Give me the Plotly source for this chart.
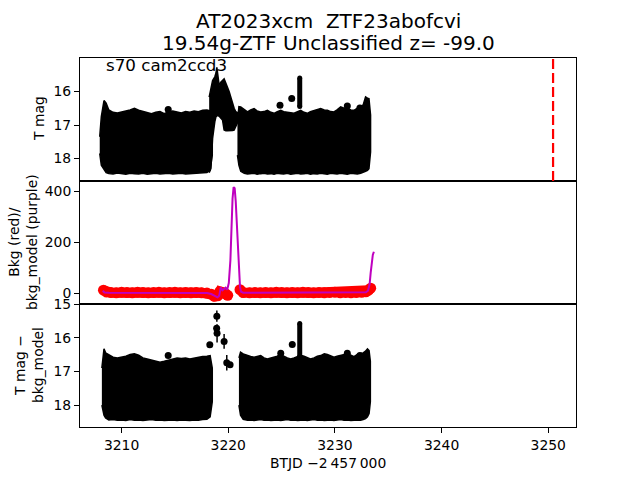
import plotly.graph_objects as go

W, H = 640, 480
ML, MR, MT, MB = 80, 64, 58, 53
FONT = "DejaVu Sans"

# ---------------- data ----------------
TITLE_1 = "AT2023xcm\u00a0\u00a0ZTF23abofcvi"
TITLE_2 = "19.54g-ZTF Unclassified z= -99.0"
SECTOR_LABEL = "s70 cam2ccd3"
X_LABEL = "BTJD \u22122\u2009457\u2009000"
Y1_LABEL = "T mag"
Y2_LABEL = "Bkg (red)/<br>bkg_model (purple)"
Y3_LABEL = "T mag \u2212<br>bkg_model"

X_TICKS = [3210, 3220, 3230, 3240, 3250]
Y1_TICKS = [16, 17, 18]
Y2_TICKS = [0, 200, 400]
Y3_TICKS = [15, 16, 17, 18]

VLINE_T = 3250.45

# panel 1: light curve envelope, orbit 1
LC1A_T = [3207.95, 3208.1, 3208.35, 3208.55, 3208.8, 3209.2, 3209.6, 3210.0, 3210.4, 3210.8,
          3211.2, 3211.6, 3212.0, 3212.4, 3212.8, 3213.2, 3213.6, 3214.0, 3214.4, 3214.8,
          3215.2, 3215.6, 3216.0, 3216.4, 3216.8, 3217.2, 3217.6, 3218.0, 3218.3, 3218.5]
LC1A_UP = [17.35, 16.75, 16.27, 16.35, 16.55, 16.62, 16.64, 16.62, 16.58, 16.55,
           16.50, 16.56, 16.60, 16.64, 16.66, 16.62, 16.60, 16.66, 16.60, 16.58,
           16.62, 16.64, 16.60, 16.62, 16.58, 16.60, 16.56, 16.55, 16.58, 16.95]
LC1A_LO = [17.85, 18.2, 18.33, 18.42, 18.45, 18.46, 18.43, 18.45, 18.47, 18.44,
           18.45, 18.46, 18.44, 18.47, 18.45, 18.44, 18.46, 18.45, 18.44, 18.46,
           18.45, 18.44, 18.46, 18.45, 18.44, 18.45, 18.43, 18.42, 18.35, 17.9]

# panel 1: flare bump between orbits
LC1F_T = [3218.21, 3218.37, 3218.53, 3218.74, 3218.85, 3218.93, 3219.05, 3219.15, 3219.3, 3219.46,
          3219.61, 3219.77, 3219.93, 3220.08, 3220.24, 3220.4, 3220.55, 3220.7, 3220.86, 3220.98]
LC1F_UP = [16.17, 15.87, 15.67, 15.56, 15.45, 15.28, 15.6, 15.82, 15.72, 15.67,
           15.62, 15.75, 15.87, 16.0, 16.17, 16.37, 16.5, 16.6, 16.62, 16.65]
LC1F_LO = [18.42, 18.3, 17.4, 16.9, 16.75, 16.72, 16.72, 16.74, 16.78, 16.85,
           17.15, 17.17, 17.17, 17.17, 17.17, 17.16, 17.15, 17.05, 16.95, 16.85]

# panel 1: orbit 2
LC1B_T = [3220.86, 3221.0, 3221.17, 3221.5, 3221.8, 3222.1, 3222.42, 3222.7, 3223.04, 3223.35,
          3223.67, 3224.0, 3224.29, 3224.6, 3224.92, 3225.2, 3225.54, 3225.85, 3226.17, 3226.5,
          3226.79, 3227.1, 3227.41, 3227.7, 3228.04, 3228.35, 3228.66, 3229.0, 3229.29, 3229.6,
          3229.91, 3230.2, 3230.54, 3230.85, 3231.16, 3231.5, 3231.78, 3232.1, 3232.41, 3232.65,
          3232.87, 3233.05, 3233.19, 3233.34]
LC1B_UP = [16.9, 16.45, 16.46, 16.55, 16.61, 16.55, 16.51, 16.58, 16.61, 16.6,
           16.56, 16.62, 16.65, 16.6, 16.56, 16.6, 16.61, 16.63, 16.65, 16.6,
           16.56, 16.62, 16.65, 16.6, 16.56, 16.54, 16.51, 16.55, 16.56, 16.6,
           16.61, 16.55, 16.46, 16.5, 16.51, 16.55, 16.56, 16.5, 16.46, 16.4,
           16.16, 16.2, 16.21, 16.7]
LC1B_LO = [17.9, 18.2, 18.38, 18.44, 18.46, 18.45, 18.44, 18.47, 18.45, 18.44,
           18.46, 18.45, 18.47, 18.44, 18.45, 18.46, 18.44, 18.47, 18.45, 18.44,
           18.46, 18.45, 18.44, 18.47, 18.45, 18.46, 18.44, 18.45, 18.47, 18.44,
           18.45, 18.46, 18.44, 18.45, 18.47, 18.44, 18.45, 18.46, 18.44, 18.42,
           18.38, 18.35, 18.3, 17.8]

# panel 1 isolated points
P1_T = [3214.37, 3224.85, 3225.95, 3231.16, 3232.34]
P1_M = [16.54, 16.41, 16.21, 16.43, 16.49]
# panel 1 short spike at ~3226.7 (top and bottom of the run of points)
SPK1_T = [3226.7, 3226.7]
SPK1_M = [15.6, 16.45]

# panel 2: background (red) and background model (purple)
BKG_T = [3208.3, 3208.6, 3209.0, 3209.5, 3210.0, 3210.5, 3211.0, 3211.5, 3212.0, 3212.5,
         3213.0, 3213.5, 3214.0, 3214.5, 3215.0, 3215.5, 3216.0, 3216.5, 3217.0, 3217.5,
         3218.0, 3218.4, 3218.7, 3219.0, 3219.2, 3219.4, 3219.7, 3219.95, 3220.5,
         3221.1, 3221.4, 3222.0, 3222.5, 3223.0, 3223.5, 3224.0, 3224.5, 3225.0, 3225.5,
         3226.0, 3226.5, 3227.0, 3227.5, 3228.0, 3228.5, 3229.0, 3229.5, 3230.0, 3230.5,
         3231.0, 3231.5, 3232.0, 3232.5, 3232.9, 3233.15, 3233.35]
BKG_V = [12, 5, 3, 2, 4, 3, 2, 4, 3, 2,
         3, 4, 2, 3, 4, 2, 3, 2, 3, 2,
         1, -4, -12, -10, 6, 4, 0, -8, None,
         14, 3, 2, 3, 2, 3, 2, 4, 3, 2,
         3, 2, 4, 3, 2, 3, 2, 3, 4, 2,
         3, 2, 3, 4, 6, 12, 20]
MOD_T = [3208.23, 3208.4, 3208.8, 3210, 3212, 3214, 3216, 3218.0, 3218.4, 3218.6,
         3218.8, 3219.0, 3219.15, 3219.3, 3219.45, 3219.6, 3219.75, 3219.9, 3220.05, 3220.2,
         3220.3, 3220.4, 3220.5, 3220.6, 3220.7, 3220.8, 3220.9, 3221.0, 3221.1, 3221.2,
         3221.4, 3222, 3224, 3226, 3228, 3230, 3232, 3232.9, 3233.1, 3233.25,
         3233.35, 3233.45, 3233.55, 3233.65]
MOD_V = [10, 3, 2, 2, 2, 2, 2, 1, -3, -8,
         -14, -16, -10, 24, 12, 18, 22, 14, 40, 130,
         260, 370, 416, 412, 360, 270, 200, 80, 25, 6,
         2, 2, 2, 2, 2, 2, 2, 4, 10, 35,
         80, 125, 150, 163]

# panel 3: background-subtracted light curve
LC3A_T = [3208.15, 3208.35, 3208.5, 3208.8, 3209.2, 3209.6, 3210.0, 3210.4, 3210.8, 3211.2,
          3211.6, 3212.0, 3212.4, 3212.8, 3213.2, 3213.6, 3214.0, 3214.4, 3214.8, 3215.2,
          3215.6, 3216.0, 3216.4, 3216.8, 3217.2, 3217.6, 3218.0, 3218.3, 3218.5]
LC3A_UP = [16.9, 16.33, 16.45, 16.5, 16.58, 16.6, 16.58, 16.55, 16.5, 16.48,
           16.52, 16.6, 16.63, 16.66, 16.7, 16.73, 16.7, 16.66, 16.63, 16.6,
           16.62, 16.6, 16.63, 16.6, 16.58, 16.56, 16.55, 16.53, 16.9]
LC3A_LO = [18.0, 18.3, 18.38, 18.44, 18.43, 18.45, 18.44, 18.46, 18.43, 18.45,
           18.44, 18.46, 18.45, 18.43, 18.45, 18.44, 18.46, 18.45, 18.44, 18.46,
           18.44, 18.45, 18.46, 18.44, 18.45, 18.43, 18.42, 18.35, 17.9]
LC3B_T = [3221.0, 3221.15, 3221.4, 3221.8, 3222.1, 3222.42, 3222.7, 3223.04, 3223.35, 3223.67,
          3224.0, 3224.29, 3224.6, 3224.92, 3225.2, 3225.54, 3225.85, 3226.17, 3226.5, 3226.79,
          3227.1, 3227.41, 3227.7, 3228.04, 3228.35, 3228.66, 3229.0, 3229.29, 3229.6, 3229.91,
          3230.2, 3230.54, 3230.85, 3231.16, 3231.5, 3231.78, 3232.1, 3232.41, 3232.65, 3232.87,
          3233.05, 3233.2, 3233.32]
LC3B_UP = [16.6, 16.43, 16.48, 16.53, 16.56, 16.58, 16.55, 16.53, 16.6, 16.63,
           16.6, 16.58, 16.55, 16.48, 16.55, 16.6, 16.63, 16.6, 16.55, 16.52,
           16.55, 16.6, 16.63, 16.6, 16.55, 16.53, 16.48, 16.5, 16.55, 16.58,
           16.55, 16.53, 16.5, 16.48, 16.52, 16.56, 16.5, 16.48, 16.45, 16.4,
           16.33, 16.38, 16.7]
LC3B_LO = [18.0, 18.3, 18.42, 18.45, 18.44, 18.46, 18.45, 18.43, 18.45, 18.44,
           18.46, 18.45, 18.44, 18.46, 18.45, 18.43, 18.45, 18.44, 18.46, 18.45,
           18.44, 18.46, 18.45, 18.43, 18.45, 18.44, 18.46, 18.45, 18.44, 18.46,
           18.45, 18.43, 18.45, 18.44, 18.46, 18.45, 18.44, 18.45, 18.43, 18.4,
           18.35, 18.25, 17.9]
# panel 3 isolated points with error bars
P3_T = [3214.37, 3224.92, 3226.0, 3231.16, 3232.34,
        3218.27, 3218.93, 3218.91, 3218.95, 3219.61, 3219.86, 3220.17]
P3_M = [16.53, 16.46, 16.20, 16.46, 16.53,
        16.21, 15.36, 15.72, 15.87, 16.11, 16.74, 16.80]
P3_E = [0.03, 0.03, 0.03, 0.03, 0.03,
        0.05, 0.17, 0.08, 0.27, 0.22, 0.23, 0.08]
SPK3_T = [3226.7, 3226.7]
SPK3_M = [15.58, 16.56]

X_RANGE = [3206.1, 3252.6]
Y1_RANGE = [18.67, 15.0]
Y2_RANGE = [-42, 440]
Y3_RANGE = [18.65, 15.0]

# ---------------- figure ----------------
fig = go.Figure()


def band(t, up, lo, xa, ya):
    xs = list(t) + list(t)[::-1]
    ys = list(up) + list(lo)[::-1]
    fig.add_trace(go.Scatter(x=xs, y=ys, mode="lines", fill="toself",
                             fillcolor="black", line=dict(color="black", width=1.5),
                             xaxis=xa, yaxis=ya, hoverinfo="skip", showlegend=False))


def points(t, m, xa, ya, err=None, size=7):
    kw = {}
    if err is not None:
        kw["error_y"] = dict(type="data", array=err, color="black", thickness=1.5, width=0)
    fig.add_trace(go.Scatter(x=t, y=m, mode="markers",
                             marker=dict(color="black", size=size),
                             xaxis=xa, yaxis=ya, showlegend=False, **kw))


def spike(t, m, xa, ya):
    fig.add_trace(go.Scatter(x=t, y=m, mode="lines+markers",
                             line=dict(color="black", width=5),
                             marker=dict(color="black", size=5),
                             xaxis=xa, yaxis=ya, showlegend=False))


# panel 1
band(LC1A_T, LC1A_UP, LC1A_LO, "x", "y")
band(LC1F_T, LC1F_UP, LC1F_LO, "x", "y")
band(LC1B_T, LC1B_UP, LC1B_LO, "x", "y")
points(P1_T, P1_M, "x", "y")
spike(SPK1_T, SPK1_M, "x", "y")

# panel 2
fig.add_trace(go.Scatter(x=BKG_T, y=BKG_V, mode="lines+markers",
                         line=dict(color="#ff0000", width=10),
                         marker=dict(color="#ff0000", size=11),
                         connectgaps=False, xaxis="x2", yaxis="y2", showlegend=False))
fig.add_trace(go.Scatter(x=MOD_T, y=MOD_V, mode="lines",
                         line=dict(color="#bf00bf", width=2),
                         xaxis="x2", yaxis="y2", showlegend=False))

# panel 3
band(LC3A_T, LC3A_UP, LC3A_LO, "x3", "y3")
band(LC3B_T, LC3B_UP, LC3B_LO, "x3", "y3")
points(P3_T, P3_M, "x3", "y3", err=P3_E)
spike(SPK3_T, SPK3_M, "x3", "y3")

tickfont = dict(family=FONT, size=13.9, color="black")
common_y = dict(showgrid=False, zeroline=False, showline=True, mirror=True,
                linecolor="black", linewidth=1, ticks="outside", ticklen=5,
                tickwidth=1, tickcolor="black", tickfont=tickfont)
common_x = dict(showgrid=False, zeroline=False, showline=True, mirror=True,
                linecolor="black", linewidth=1, range=X_RANGE)

fig.update_layout(
    width=W, height=H,
    margin=dict(l=ML, r=MR, t=MT, b=MB),
    paper_bgcolor="white", plot_bgcolor="white",
    showlegend=False,
    xaxis=dict(anchor="y", matches="x3", showticklabels=False, ticks="", **common_x),
    xaxis2=dict(anchor="y2", matches="x3", showticklabels=False, ticks="", **common_x),
    xaxis3=dict(anchor="y3", tickmode="array", tickvals=X_TICKS,
                ticks="outside", ticklen=5, tickwidth=1, tickcolor="black",
                tickfont=tickfont, **common_x),
    yaxis=dict(domain=[2 / 3, 1], anchor="x", range=Y1_RANGE,
               tickmode="array", tickvals=Y1_TICKS, **common_y),
    yaxis2=dict(domain=[1 / 3, 2 / 3], anchor="x2", range=Y2_RANGE,
                tickmode="array", tickvals=Y2_TICKS, **common_y),
    yaxis3=dict(domain=[0, 1 / 3], anchor="x3", range=Y3_RANGE,
                tickmode="array", tickvals=Y3_TICKS, **common_y),
)

fig.add_shape(type="line", xref="x", yref="y domain", x0=VLINE_T, x1=VLINE_T,
              y0=0, y1=1, line=dict(color="#ff0000", width=2.2, dash="10px,4px"))

PW = W - ML - MR
PH = H - MT - MB


def px(x):
    return (x - ML) / PW


def py(y):
    return (H - MB - y) / PH


def note(text, x, y, size, angle=0, xanchor="center"):
    fig.add_annotation(text=text, x=px(x), y=py(y), xref="paper", yref="paper",
                       showarrow=False, textangle=angle, xanchor=xanchor, yanchor="middle",
                       font=dict(family=FONT, size=size, color="black"))


note(TITLE_1, 328, 21, 20)
note(TITLE_2, 328, 43, 20)
note(SECTOR_LABEL, 104, 65, 16.7, xanchor="left")
note(X_LABEL, 328, 463, 13.9)
note(Y1_LABEL, 39, 119, 13.9, angle=-90)
note(Y2_LABEL, 23, 242, 13.9, angle=-90)
note(Y3_LABEL, 29, 365, 13.9, angle=-90)

fig.write_html("out.html")
